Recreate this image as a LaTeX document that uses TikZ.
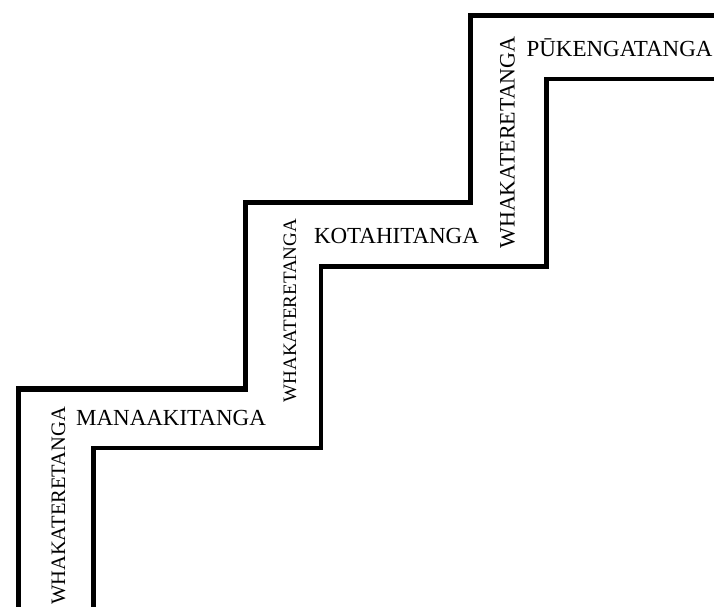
\documentclass[tikz,border=0pt]{standalone}
\usepackage{fontspec}
\setmainfont{Liberation Serif}
\usetikzlibrary{positioning}
\def\outerwidth{5.5pt}
\def\innerwidth{4.5pt}
\def\stepfont{\fontsize{23}{27}\selectfont}
\tikzset{
% Stair walls
outer_wall/.style={
	line width=\outerwidth, line join=miter,
},
inner_wall/.style={
	line width=\innerwidth, line join=miter,
},
% Step names
step_label/.style={
	font=\stepfont, anchor=base, inner sep=0pt,
},
% Riser names
riser_label/.style={
	rotate=90, anchor=center, inner sep=0pt,
},
}
\begin{document}
\begin{tikzpicture}[x=1pt, y=-1pt]
		\useasboundingbox (0,0) rectangle (714,607);

		% Walls
		\draw[outer_wall] (18.5,615) -- (18.5,389) -- (245.5,389) -- (245.5,202.5)
			-- (470.5,202.5) -- (470.5,15.5) -- (720,15.5);
		\draw[inner_wall] (93.5,615) -- (93.5,448) -- (321,448) -- (321,266.5)
			-- (546.5,266.5) -- (546.5,79) -- (720,79);

		% Steps
		\node[step_label] (manaaki) at (171,425) {MANAAKITANGA};
		\node[step_label] (kotahi) at (396.5,243) {KOTAHITANGA};
		\node[step_label] (pukenga) at (619.5,57) {PŪKENGATANGA};

		% Risers
		\node[riser_label, font=\fontsize{20.5}{25}\selectfont] (riser1) at (58.5,506) {WHAKATERETANGA};
		\node[riser_label, font=\fontsize{19}{23}\selectfont] (riser2) at (290,310.5) {WHAKATERETANGA};
		\node[riser_label, font=\fontsize{22}{26}\selectfont] (riser3) at (507.5,142.5) {WHAKATERETANGA};
	\end{tikzpicture}
\end{document}
